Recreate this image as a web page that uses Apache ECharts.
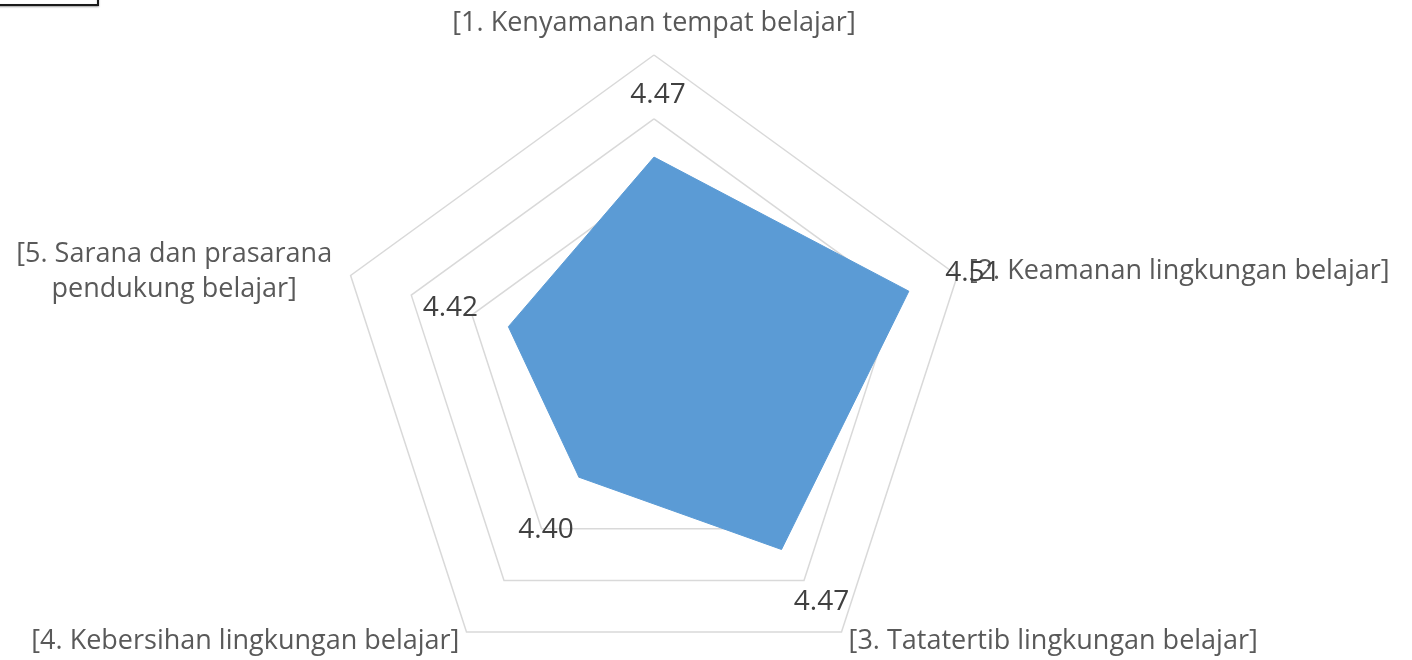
<!DOCTYPE html>
<html style="height: 100%">
<head>
<meta charset="utf-8">
<title>Radar</title>
<script src="https://cdn.jsdelivr.net/npm/echarts@6/dist/echarts.min.js"></script>
<style>
  html, body { margin: 0; padding: 0; background: #fff; }
  #main { width: 1412px; height: 660px; }
</style>
</head>
<body>
<div id="main"></div>
<script>
// data, in the original (clockwise) order
var categories = [
    '[1. Kenyamanan tempat belajar]',
    '[2. Keamanan lingkungan belajar]',
    '[3. Tatatertib lingkungan belajar]',
    '[4. Kebersihan lingkungan belajar]',
    '[5. Sarana dan prasarana\npendukung belajar]'
];
var values = [4.47, 4.51, 4.47, 4.40, 4.42];
var axisMin = 4.30;
var axisMax = 4.55;

// label placement (style only)
var nameStyle = ['t', 's', 's', 's', 'c'];
var labelOffsets = [[4, -62], [64, -18], [40, 53], [-33, 53], [-58, -19]];

// echarts radar runs counter-clockwise, so walk the list backwards after the first
var order = [0, 4, 3, 2, 1];

var indicators = order.map(function (i) {
    return { name: categories[i], min: axisMin, max: axisMax };
});
var mainValue = order.map(function (i) { return values[i]; });

// one invisible item per vertex, only to carry that vertex's value label
var labelItems = values.map(function (v, k) {
    return {
        value: order.map(function (i) { return i === k ? v : '-'; }),
        symbol: 'circle',
        symbolSize: 2,
        itemStyle: { color: 'rgba(0,0,0,0)' },
        lineStyle: { opacity: 0, width: 0 },
        areaStyle: null,
        label: {
            show: true,
            position: 'inside',
            offset: labelOffsets[k],
            color: '#404040',
            fontFamily: 'Open Sans',
            fontSize: 28,
            formatter: function (p) {
                var n = Number(p.value);
                return (p.value === '-' || p.value == null || isNaN(n)) ? '' : n.toFixed(2);
            }
        }
    };
});

var nameFont = { fontFamily: 'Open Sans', fontSize: 27, color: '#595959' };

var chart = echarts.init(document.getElementById('main'));
chart.setOption({
    backgroundColor: '#fff',
    animation: false,
    radar: {
        center: [654, 374],
        radius: 319,
        startAngle: 90,
        shape: 'polygon',
        splitNumber: 5,
        axisNameGap: 12,
        axisName: {
            color: '#595959',
            fontFamily: 'Open Sans',
            fontSize: 27,
            formatter: function (name) {
                var idx = categories.indexOf(name);
                var key = nameStyle[idx];
                return name.split('\n').map(function (s) {
                    return '{' + key + '|' + s + '}';
                }).join('\n');
            },
            rich: {
                t: echarts.util.extend({ padding: [0, 0, 6, 0] }, nameFont),
                s: echarts.util.extend({}, nameFont),
                c: echarts.util.extend({ width: 330, align: 'center', lineHeight: 35 }, nameFont)
            }
        },
        axisLine: { show: false },
        axisTick: { show: false },
        axisLabel: { show: false },
        splitArea: { show: false },
        splitLine: { lineStyle: { color: '#D9D9D9', width: 1.5 } },
        indicator: indicators
    },
    series: [{
        type: 'radar',
        symbol: 'none',
        silent: true,
        lineStyle: { color: '#5B9BD5', width: 1 },
        areaStyle: { color: '#5B9BD5', opacity: 1 },
        data: [{ value: mainValue }]
    }, {
        type: 'radar',
        silent: true,
        z: 3,
        data: labelItems
    }],
    graphic: [{
        type: 'rect',
        shape: { x: -10, y: -20, width: 108, height: 25 },
        style: {
            fill: '#fff', stroke: '#1a1a1a', lineWidth: 2,
            shadowBlur: 2, shadowOffsetY: 1, shadowColor: 'rgba(0,0,0,0.3)'
        }
    }]
});
</script>
</body>
</html>
